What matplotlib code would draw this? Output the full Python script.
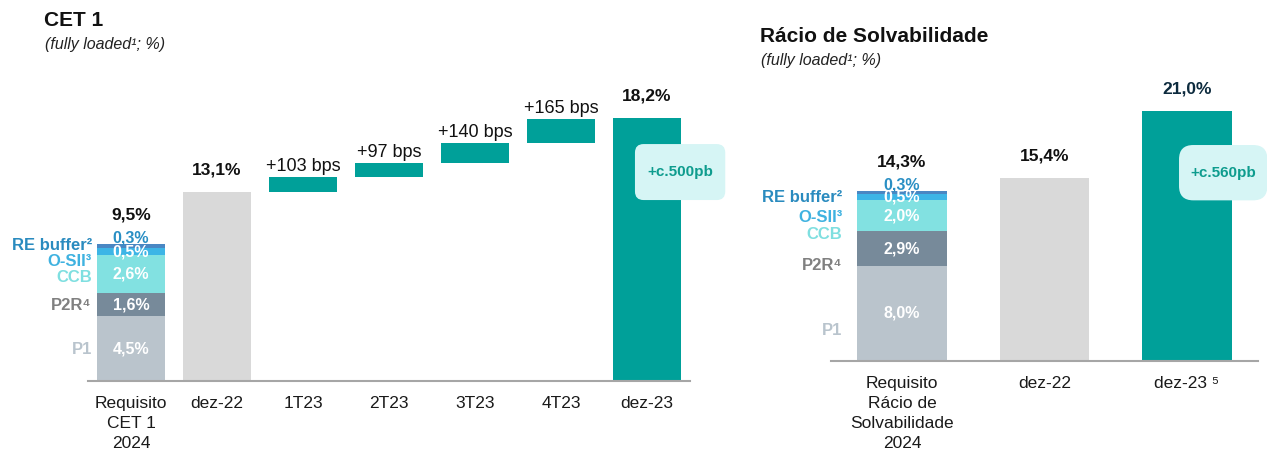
"""CET 1 waterfall and solvency ratio bars, fully loaded."""

import matplotlib.pyplot as plt
from matplotlib.patches import FancyBboxPatch

plt.rcParams["font.family"] = ["Liberation Sans", "DejaVu Sans"]

# --- data -------------------------------------------------------------------
REQ_PARTS = ["P1", "P2R\u2074", "CCB", "O-SII\u00b3", "RE buffer\u00b2"]

CET1_REQ = [4.5, 1.6, 2.6, 0.5, 0.3]
CET1_REQ_LABELS = ["4,5%", "1,6%", "2,6%", "0,5%", "0,3%"]
CET1_REQ_TOTAL = "9,5%"
CET1_START = 13.1
CET1_STEPS_BPS = [103, 97, 140, 165]
CET1_END = 18.2
CET1_CATS = ["Requisito\nCET 1\n2024", "dez-22", "1T23", "2T23", "3T23", "4T23", "dez-23"]
CET1_DELTA = "+c.500pb"

SOLV_REQ = [8.0, 2.9, 2.6, 0.5, 0.3]
SOLV_REQ_LABELS = ["8,0%", "2,9%", "2,0%", "0,5%", "0,3%"]
SOLV_REQ_TOTAL = "14,3%"
SOLV_DEZ22 = 15.4
SOLV_DEZ23 = 21.0
SOLV_CATS = ["Requisito\nRácio de\nSolvabilidade\n2024", "dez-22", "dez-23 \u2075"]
SOLV_DELTA = "+c.560pb"

# --- style ------------------------------------------------------------------
TEAL = "#00a099"
GREY = "#d9d9d9"
SEG_COLORS = ["#bac4cc", "#778a9a", "#82e1e1", "#3db5e6", "#4a87c3"]
PART_COLORS = ["#b9c4cd", "#808080", "#7fdfe0", "#3fb2e0", "#2a8bbf"]
BOX_FC = "#d6f5f5"
BOX_TXT = "#0e9c8e"
TICK_FONT = ["Liberation Sans Narrow", "Liberation Sans", "DejaVu Sans"]

W, H = 1267, 461


def fmt(v):
    return f"{v:.1f}%".replace(".", ",")


def px_axes(fig, left, right, base, top):
    return fig.add_axes([left / W, (H - base) / H, (right - left) / W, (base - top) / H])


def style_axes(ax, cats, ymax):
    ax.set_xlim(-0.5, len(cats) - 0.5)
    ax.set_ylim(0, ymax)
    for s in ["top", "right", "left"]:
        ax.spines[s].set_visible(False)
    ax.spines["bottom"].set_color("#a6a6a6")
    ax.spines["bottom"].set_linewidth(1.5)
    ax.set_yticks([])
    ax.set_xticks(range(len(cats)))
    ax.set_xticklabels(cats, fontsize=12.5, family=TICK_FONT, linespacing=1.42, color="#1a1a1a")
    ax.tick_params(axis="x", length=0, pad=11)


def stacked_req(ax, values, labels, total_label, width, part_y, part_x):
    bottom = 0.0
    for i, (v, c) in enumerate(zip(values, SEG_COLORS)):
        ax.bar(0, v, bottom=bottom, width=width, color=c)
        if i < len(values) - 1:
            ax.text(0, bottom + v / 2, labels[i], ha="center", va="center",
                    fontsize=11.5, fontweight="bold", color="white")
        bottom += v
    ax.annotate(labels[-1], (0, bottom), xytext=(0, 4), textcoords="offset points",
                ha="center", va="center", fontsize=11.5, fontweight="bold", color="#2a8fc4")
    ax.annotate(total_label, (0, bottom), xytext=(0, 21), textcoords="offset points",
                ha="center", va="center", fontsize=12.5, fontweight="bold", color="#111111")
    for name, y, c in zip(REQ_PARTS, part_y, PART_COLORS):
        ax.text(part_x, y, name, ha="right", va="center", fontsize=12,
                fontweight="bold", color=c, clip_on=False)


def delta_box(ax, x0, y0, w, h, aspect, text):
    box = FancyBboxPatch((x0, y0), w, h, boxstyle="round,pad=0,rounding_size=0.1",
                         mutation_aspect=aspect, fc=BOX_FC, ec="none", clip_on=False, zorder=3)
    ax.add_patch(box)
    ax.text(x0 + w / 2, y0 + h / 2, text, ha="center", va="center", fontsize=11,
            fontweight="bold", color=BOX_TXT, zorder=4, clip_on=False)


fig = plt.figure(figsize=(W / 100, H / 100), dpi=100)

# --- left: CET 1 ------------------------------------------------------------
ax1 = px_axes(fig, 88, 690, 381, 92.4)
style_axes(ax1, CET1_CATS, 20)
bw1 = 0.78
stacked_req(ax1, CET1_REQ, CET1_REQ_LABELS, CET1_REQ_TOTAL, bw1,
            [2.15, 5.2, 7.14, 8.25, 9.42], -0.455)

ax1.bar(1, CET1_START, width=bw1, color=GREY)
ax1.annotate(fmt(CET1_START), (1, CET1_START), xytext=(0, 16), textcoords="offset points",
             ha="center", va="center", fontsize=12.5, fontweight="bold", color="#111111")
level = CET1_START
for i, bps in enumerate(CET1_STEPS_BPS):
    step = bps / 100
    ax1.bar(2 + i, step, bottom=level, width=bw1, color=TEAL)
    ax1.annotate(f"+{bps} bps", (2 + i, level + step), xytext=(0, 7.5),
                 textcoords="offset points", ha="center", va="center", fontsize=13, color="#111111")
    level += step
ax1.bar(6, CET1_END, width=bw1, color=TEAL)
ax1.annotate(fmt(CET1_END), (6, CET1_END), xytext=(0, 16), textcoords="offset points",
             ha="center", va="center", fontsize=12.5, fontweight="bold", color="#111111")
delta_box(ax1, 5.86, 12.54, 1.05, 3.88, 86 / 14.43, CET1_DELTA)

fig.text(44 / W, 1 - 20 / H, "CET 1", fontsize=15, fontweight="bold", va="center", color="#111111")
fig.text(45 / W, 1 - 45 / H, "(fully loaded\u00b9; %)", fontsize=11.5, style="italic",
         va="center", color="#222222")

# --- right: solvency ratio --------------------------------------------------
ax2 = px_axes(fig, 830.75, 1258.25, 361, 99.2)
style_axes(ax2, SOLV_CATS, 22)
bw2 = 0.625
stacked_req(ax2, SOLV_REQ, SOLV_REQ_LABELS, SOLV_REQ_TOTAL, bw2,
            [2.6, 8.0, 10.6, 12.1, 13.7], -0.42)

ax2.bar(1, SOLV_DEZ22, width=bw2, color=GREY)
ax2.annotate(fmt(SOLV_DEZ22), (1, SOLV_DEZ22), xytext=(0, 16), textcoords="offset points",
             ha="center", va="center", fontsize=12.5, fontweight="bold", color="#111111")
ax2.bar(2, SOLV_DEZ23, width=bw2, color=TEAL)
ax2.annotate(fmt(SOLV_DEZ23), (2, SOLV_DEZ23), xytext=(0, 16), textcoords="offset points",
             ha="center", va="center", fontsize=12.5, fontweight="bold", color="#0d2b3e")
delta_box(ax2, 1.944, 13.5, 0.62, 4.65, 142.5 / 11.9, SOLV_DELTA)

fig.text(760 / W, 1 - 37 / H, "Rácio de Solvabilidade", fontsize=15, fontweight="bold",
         va="center", color="#111111")
fig.text(761 / W, 1 - 60 / H, "(fully loaded\u00b9; %)", fontsize=11.5, style="italic",
         va="center", color="#222222")

fig.savefig("out.png", dpi=100)
